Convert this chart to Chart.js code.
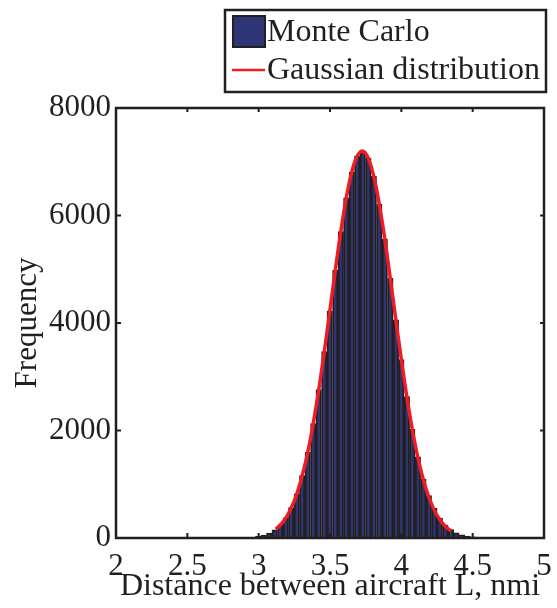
<!DOCTYPE html>
<html>
<head>
<meta charset="utf-8">
<script src="https://cdn.jsdelivr.net/npm/chart.js@4.4.1/dist/chart.umd.min.js"></script>
<style>
  body { margin: 0; background: #fff; }
  canvas { display: block; }
</style>
</head>
<body>
<canvas id="myChart" width="557" height="608"></canvas>
<script>
// histogram bin centres (nmi) and counts
const binCenters = [2.997, 3.035, 3.074, 3.112, 3.151, 3.190, 3.228, 3.267, 3.305, 3.344,
    3.383, 3.421, 3.460, 3.498, 3.537, 3.576, 3.614, 3.653, 3.691, 3.730,
    3.769, 3.807, 3.846, 3.884, 3.923, 3.962, 4.000, 4.039, 4.077, 4.116,
    4.155, 4.193, 4.232, 4.270, 4.309, 4.348, 4.386, 4.425, 4.463, 4.502,
    4.541, 4.579];
const binCounts = [30, 55, 90, 150, 240, 375, 565, 820, 1160, 1600,
    2130, 2760, 3470, 4220, 4980, 5700, 6330, 6810, 7110, 7200,
    7070, 6730, 6210, 5560, 4830, 4060, 3320, 2630, 2020, 1510,
    1090, 790, 550, 370, 240, 155, 95, 58, 34, 20,
    10, 5];

// fitted gaussian curve points
const curveX = [3.12, 3.17, 3.22, 3.27, 3.32, 3.37, 3.42, 3.47, 3.52, 3.57, 3.62, 3.67,
    3.726, 3.77, 3.82, 3.87, 3.92, 3.97, 4.02, 4.07, 4.12, 4.17, 4.22, 4.27, 4.32, 4.35];
const curveY = [162, 296, 511, 840, 1312, 1944, 2737, 3658, 4645, 5600, 6411, 6970,
    7200, 7057, 6571, 5812, 4881, 3892, 2948, 2120, 1448, 940, 579, 338, 188, 129];

const xTicks = [2, 2.5, 3, 3.5, 4, 4.5, 5];
const yTicks = [0, 2000, 4000, 6000, 8000];

const barFill = '#2d3575';
const edge = '#231f20';
const red = '#ee1c24';
const fontFam = '"Liberation Serif", "Times New Roman", serif';

let histData = [];
for (let i = 0; i < binCenters.length; i++) {
    histData.push({ x: binCenters[i], y: binCounts[i] });
}
let curveData = [];
for (let i = 0; i < curveX.length; i++) {
    curveData.push({ x: curveX[i], y: curveY[i] });
}

// box round the plot with inward ticks, like matlab
const frame = {
    id: 'frame',
    afterDatasetsDraw(chart) {
        const ctx = chart.ctx;
        const a = chart.chartArea;
        const xs = chart.scales.x, ys = chart.scales.y;
        ctx.save();
        ctx.strokeStyle = edge;
        ctx.lineWidth = 2;
        ctx.beginPath();
        xTicks.forEach(v => {
            const px = xs.getPixelForValue(v);
            ctx.moveTo(px, a.bottom); ctx.lineTo(px, a.bottom - 5);
            ctx.moveTo(px, a.top); ctx.lineTo(px, a.top + 4);
        });
        yTicks.forEach(v => {
            const py = ys.getPixelForValue(v);
            ctx.moveTo(a.left, py); ctx.lineTo(a.left + 5, py);
            ctx.moveTo(a.right, py); ctx.lineTo(a.right - 4, py);
        });
        ctx.stroke();
        ctx.lineWidth = 2.5;
        ctx.strokeRect(a.left, a.top, a.right - a.left, a.bottom - a.top);
        ctx.restore();
    },
    afterDraw(chart) {
        const ctx = chart.ctx;
        const ds = chart.data.datasets;
        ctx.save();
        ctx.fillStyle = '#fff';
        ctx.fillRect(225, 10, 321, 82);
        ctx.strokeStyle = edge;
        ctx.lineWidth = 2.5;
        ctx.strokeRect(225, 10, 321, 82);
        // bar entry
        ctx.fillStyle = barFill;
        ctx.fillRect(233, 16, 32, 31);
        ctx.lineWidth = 2;
        ctx.strokeRect(233, 16, 32, 31);
        // line entry
        ctx.strokeStyle = red;
        ctx.lineWidth = 2.5;
        ctx.beginPath();
        ctx.moveTo(232, 70); ctx.lineTo(265, 70);
        ctx.stroke();
        ctx.fillStyle = edge;
        ctx.font = '32px ' + fontFam;
        ctx.textBaseline = 'middle';
        ctx.fillText(ds[1].label, 267, 33);
        ctx.fillText(ds[0].label, 267, 71);
        ctx.restore();
    }
};

const config = {
    type: 'bar',
    data: {
        datasets: [{
            type: 'line',
            label: 'Gaussian distribution',
            data: curveData,
            borderColor: red,
            borderWidth: 3.5,
            pointRadius: 0,
            cubicInterpolationMode: 'monotone',
            fill: false,
            order: 0
        }, {
            type: 'bar',
            label: 'Monte Carlo',
            data: histData,
            backgroundColor: barFill,
            borderColor: edge,
            borderWidth: 1.9,
            borderSkipped: 'bottom',
            barPercentage: 1,
            categoryPercentage: 1,
            order: 1
        }]
    },
    options: {
        responsive: false,
        animation: false,
        layout: { padding: { left: 0, top: 108, right: 13, bottom: 0 } },
        plugins: {
            legend: { display: false },
            tooltip: { enabled: false }
        },
        scales: {
            x: {
                type: 'linear',
                min: 2,
                max: 5,
                offset: false,
                afterFit: s => {
                    s.height = 70;
                    s.paddingLeft = 0;
                    s.paddingRight = 0;
                },
                afterBuildTicks: s => { s.ticks = xTicks.map(v => ({ value: v })); },
                grid: { display: false, drawTicks: false },
                border: { display: false },
                ticks: {
                    color: edge,
                    padding: 10,
                    font: { family: fontFam, size: 31 },
                    maxRotation: 0,
                    callback: v => `${v}`
                },
                title: {
                    display: true,
                    text: 'Distance between aircraft L, nmi',
                    color: edge,
                    font: { family: fontFam, size: 32 },
                    padding: { top: 0, bottom: 2 }
                }
            },
            y: {
                min: 0,
                max: 8000,
                afterFit: s => {
                    s.width = 116;
                    s.paddingTop = 0;
                    s.paddingBottom = 0;
                },
                afterBuildTicks: s => { s.ticks = yTicks.map(v => ({ value: v })); },
                grid: { display: false, drawTicks: false },
                border: { display: false },
                ticks: {
                    color: edge,
                    padding: 5,
                    font: { family: fontFam, size: 31 },
                    callback: v => `${v}`
                },
                title: {
                    display: true,
                    text: 'Frequency',
                    color: edge,
                    font: { family: fontFam, size: 31 },
                    padding: { top: 9, bottom: 0 }
                }
            }
        }
    },
    plugins: [frame]
};

const myChart = new Chart(document.getElementById('myChart'), config);
</script>
</body>
</html>
